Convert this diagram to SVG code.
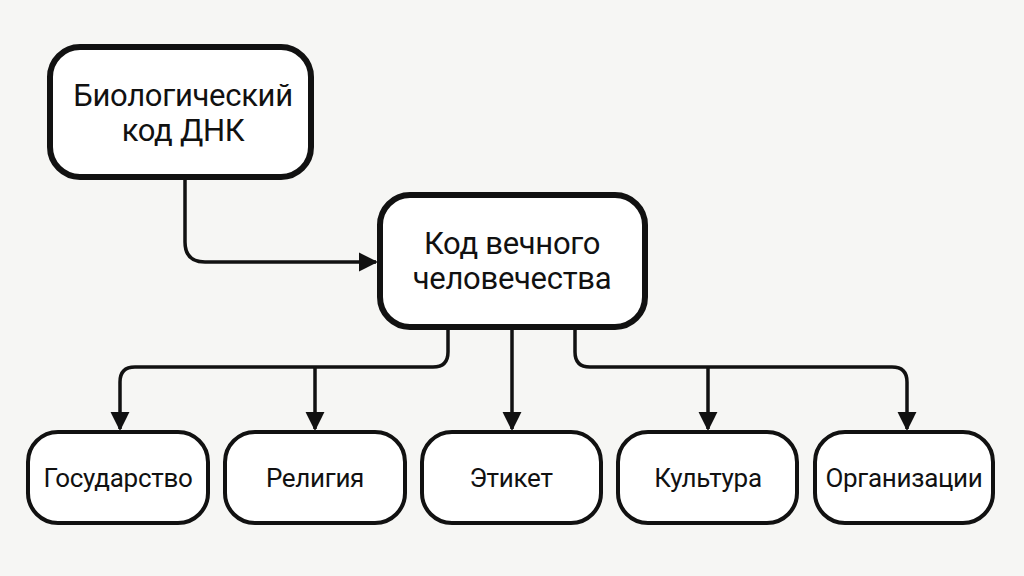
<svg xmlns="http://www.w3.org/2000/svg" width="1024" height="576" viewBox="0 0 1024 576">
<style>
.big{fill:#fff;stroke:#111;stroke-width:6}
.small{fill:#fff;stroke:#111;stroke-width:4}
.t{font-family:Roboto,"Liberation Sans",sans-serif;font-weight:400;fill:#111;text-anchor:middle}
.tb{font-size:31px;letter-spacing:-0.3px}
.ts{font-size:26px;letter-spacing:-0.3px}
.c{fill:none;stroke:#111;stroke-width:3.5}
</style>
<defs>
<marker id="ah" viewBox="0 0 10 10" refX="9" refY="5" markerWidth="5.5" markerHeight="5.5" markerUnits="strokeWidth" orient="auto">
<path d="M0,0 L10,5 L0,10 Z" fill="#111"/>
</marker>
</defs>
<rect width="1024" height="576" fill="#f6f6f4"/>
<g id="connectors">
<path class="c" d="M185,177 V242 Q185,262 205,262 H376" marker-end="url(#ah)"/>
<path class="c" d="M448,327 V352 Q448,367 433,367 H135 Q120,367 120,382 V429" marker-end="url(#ah)"/>
<path class="c" d="M315,367 V429" marker-end="url(#ah)"/>
<path class="c" d="M512,327 V429" marker-end="url(#ah)"/>
<path class="c" d="M575,327 V352 Q575,367 590,367 H892 Q907,367 907,382 V429" marker-end="url(#ah)"/>
<path class="c" d="M708,367 V429" marker-end="url(#ah)"/>
</g>
<g id="node-dna">
<rect class="big" x="50" y="47" width="261" height="130" rx="30"/>
<text class="t tb" x="183" y="106">Биологический</text>
<text class="t tb" x="183" y="141">код ДНК</text>
</g>
<g id="node-code">
<rect class="big" x="380" y="195" width="265" height="132" rx="30"/>
<text class="t tb" x="512" y="254">Код вечного</text>
<text class="t tb" x="512" y="289">человечества</text>
</g>
<g id="node-state">
<rect class="small" x="28" y="432" width="180" height="91" rx="30"/>
<text class="t ts" x="118" y="487">Государство</text>
</g>
<g id="node-religion">
<rect class="small" x="225" y="432" width="180" height="91" rx="30"/>
<text class="t ts" x="315" y="487">Религия</text>
</g>
<g id="node-etiquette">
<rect class="small" x="422" y="432" width="179" height="91" rx="30"/>
<text class="t ts" x="511" y="487">Этикет</text>
</g>
<g id="node-culture">
<rect class="small" x="618" y="432" width="179" height="91" rx="30"/>
<text class="t ts" x="708" y="487">Культура</text>
</g>
<g id="node-org">
<rect class="small" x="815" y="432" width="178" height="91" rx="30"/>
<text class="t ts" x="904" y="487">Организации</text>
</g>
</svg>
